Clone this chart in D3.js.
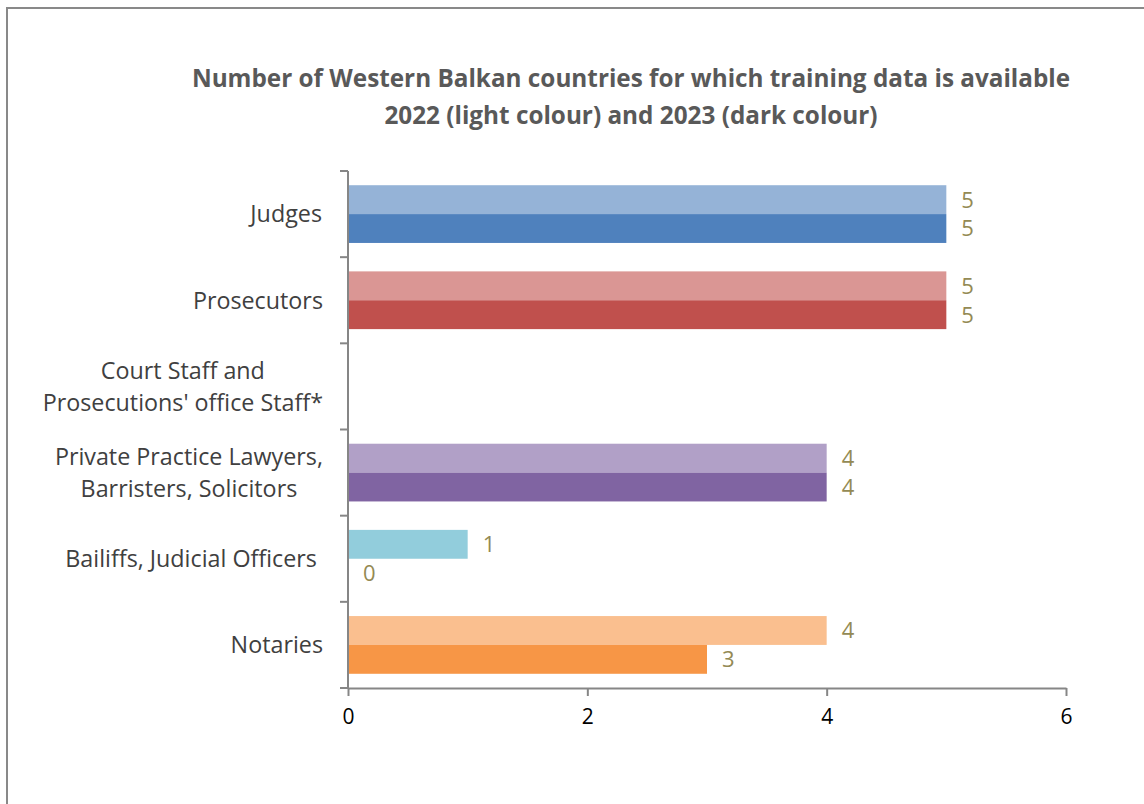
<!DOCTYPE html>
<html>
  <head>
    <meta charset="utf-8">
    <title>training data</title>
    <script src="https://d3js.org/d3.v7.min.js"></script>
    <style>
      body { margin: 0; background: #fff; }
      text { font-family: "Open Sans", "Noto Sans", sans-serif; }
    </style>
  </head>
  <body>
    <script type="text/javascript">

      //Data
      var categories = ["Judges", "Prosecutors", "Court Staff and\nProsecutions' office Staff*",
                        "Private Practice Lawyers,\nBarristers, Solicitors", "Bailiffs, Judicial Officers ", "Notaries"];
      var values2022 = [5, 5, null, 4, 1, 4];
      var values2023 = [5, 5, null, 4, 0, 3];
      var lightColours = ["#95B3D7", "#DA9694", "#C4BD97", "#B1A0C7", "#92CDDC", "#FABF8F"];
      var darkColours = ["#4F81BD", "#C0504D", "#948A54", "#8064A2", "#4BACC6", "#F79646"];
      var xTicks = [0, 2, 4, 6];
      var titleLines = ["Number of Western Balkan countries for which training data is available",
                        "2022 (light colour) and 2023 (dark colour)"];

      //Size
      var w = 1144;
      var h = 804;
      var plotLeft = 348, plotRight = 1066, plotTop = 171, plotBottom = 688;

      var svg = d3.select("body")
                  .append("svg")
                  .attr("width", w)
                  .attr("height", h);

      //Frame
      svg.append("path")
         .attr("d", "M7," + h + "V8H" + w)
         .attr("fill", "none")
         .attr("stroke", "#898989")
         .attr("stroke-width", 2);

      //Scales
      var xScale = d3.scaleLinear()
                     .domain([0, 6])
                     .range([plotLeft, plotRight]);

      var yScale = d3.scaleBand()
                     .domain(d3.range(categories.length))
                     .range([plotTop, plotBottom])
                     .paddingInner(0.33)
                     .paddingOuter(0.165);

      //Title
      svg.append("text")
         .attr("text-anchor", "middle")
         .attr("font-size", "24.3px")
         .attr("font-weight", "bold")
         .attr("fill", "#595959")
         .selectAll("tspan")
         .data(titleLines)
         .enter()
         .append("tspan")
         .attr("x", 631)
         .attr("y", function(d, i) { return 87 + i * 37; })
         .text(function(d) { return d; });

      //Bars
      var barH = yScale.bandwidth() / 2;
      var bars = [];
      categories.forEach(function(c, i) {
        if (values2022[i] !== null) bars.push({i: i, v: values2022[i], k: 0, fill: lightColours[i]});
        if (values2023[i] !== null) bars.push({i: i, v: values2023[i], k: 1, fill: darkColours[i]});
      });

      svg.selectAll("rect.bar")
         .data(bars)
         .enter()
         .append("rect")
         .attr("class", "bar")
         .attr("x", xScale(0))
         .attr("y", function(d) { return yScale(d.i) + d.k * barH; })
         .attr("width", function(d) { return xScale(d.v) - xScale(0); })
         .attr("height", barH)
         .attr("fill", function(d) { return d.fill; });

      //Value labels
      svg.selectAll("text.val")
         .data(bars)
         .enter()
         .append("text")
         .attr("class", "val")
         .attr("x", function(d) { return xScale(d.v) + 15; })
         .attr("y", function(d) { return yScale(d.i) + d.k * barH + barH / 2; })
         .attr("dy", "0.36em")
         .attr("font-size", "22px")
         .attr("fill", "#948A54")
         .text(function(d) { return d.v; });

      //X axis
      var xAxis = svg.append("g")
                     .attr("transform", "translate(0," + plotBottom + ")")
                     .call(d3.axisBottom(xScale).tickValues(xTicks).tickFormat(d3.format("d"))
                             .tickSize(8).tickSizeOuter(0).tickPadding(13));
      xAxis.select(".domain").attr("stroke", "#868686").attr("stroke-width", 2);
      xAxis.selectAll(".tick line").attr("stroke", "#868686").attr("stroke-width", 2);
      xAxis.selectAll(".tick text")
           .attr("font-size", "21px")
           .attr("font-family", "'Open Sans', sans-serif")
           .attr("fill", "#000");

      //Y axis line and ticks at category boundaries
      var bandH = (plotBottom - plotTop) / categories.length;
      var yAxis = svg.append("g");
      yAxis.append("line")
           .attr("x1", plotLeft).attr("x2", plotLeft)
           .attr("y1", plotTop).attr("y2", plotBottom + 1)
           .attr("stroke", "#868686")
           .attr("stroke-width", 2);
      yAxis.selectAll("line.tk")
           .data(d3.range(categories.length + 1))
           .enter()
           .append("line")
           .attr("class", "tk")
           .attr("x1", plotLeft - 8).attr("x2", plotLeft)
           .attr("y1", function(d) { return plotTop + d * bandH; })
           .attr("y2", function(d) { return plotTop + d * bandH; })
           .attr("stroke", "#868686")
           .attr("stroke-width", 2);

      //Category labels: lines centred on each other, block right-aligned
      var catLabels = svg.selectAll("text.cat")
         .data(categories)
         .enter()
         .append("text")
         .attr("class", "cat")
         .attr("font-size", "23.3px")
         .attr("fill", "#404040")
         .attr("text-anchor", "middle")
         .style("white-space", "pre");

      catLabels.each(function(d, i) {
        var lines = d.split("\n");
        var t = d3.select(this);
        var cy = plotTop + (i + 0.5) * bandH;
        lines.forEach(function(l, j) {
          t.append("tspan")
           .attr("x", 0)
           .attr("y", cy + (j - (lines.length - 1) / 2) * 32)
           .attr("dy", "0.36em")
           .text(l);
        });
        var bw = this.getBBox().width;
        t.selectAll("tspan").attr("x", 323 - bw / 2);
      });

    </script>
  </body>
</html>
